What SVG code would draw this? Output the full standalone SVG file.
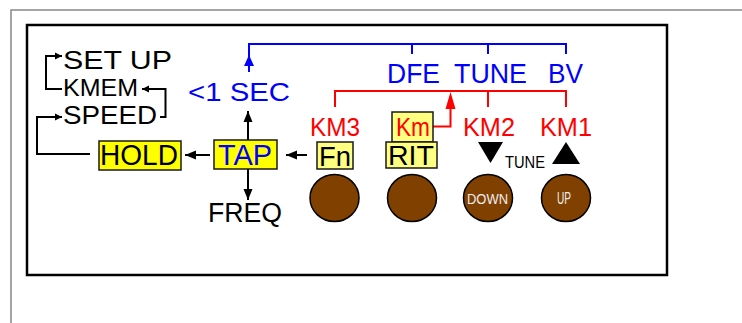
<svg xmlns="http://www.w3.org/2000/svg" width="742" height="323" viewBox="0 0 742 323">
<style>
.t{font-family:"Liberation Sans","DejaVu Sans",sans-serif;}
.bk{fill:#000;}
.bl{fill:#0000ff;}
.rd{fill:#ff0000;}
.ln{fill:none;stroke:#000;stroke-width:2;}
.bln{fill:none;stroke:#0000ff;stroke-width:2;}
.rln{fill:none;stroke:#ff0000;stroke-width:2;}
.yb{fill:#ffff00;stroke:#1a1a1a;stroke-width:1.5;}
.lyb{fill:#ffff80;stroke:#1a1a1a;stroke-width:1.5;}
.btn{fill:#804000;stroke:#000;stroke-width:1.5;}
</style>
<defs>
<marker id="sa" markerWidth="8" markerHeight="8" refX="7" refY="4" orient="auto" markerUnits="userSpaceOnUse">
<path d="M0,0.5 L7,4 L0,7.5 Z" fill="#000"/>
</marker>
<marker id="ba" markerWidth="12" markerHeight="10" refX="11" refY="5" orient="auto" markerUnits="userSpaceOnUse">
<path d="M0,0.5 L11,5 L0,9.5 Z" fill="#000"/>
</marker>
</defs>

<g id="frame">
<path d="M11,323 V10 H742" fill="none" stroke="#888" stroke-width="1.5"/>
<rect x="27" y="25" width="640" height="250" fill="#fff" stroke="#000" stroke-width="2.5"/>
</g>

<g id="connectors">
<path class="ln" d="M62,89 H46 V56 H62" marker-end="url(#sa)"/>
<path class="ln" d="M160,117 H165.5 V89 H142" marker-end="url(#sa)"/>
<path class="ln" d="M90,154 H37 V117 H62" marker-end="url(#sa)"/>
<path class="ln" d="M210,155 H185" marker-end="url(#ba)"/>
<path class="ln" d="M307,155 H286" marker-end="url(#ba)"/>
<path class="ln" d="M248,140 V111" marker-end="url(#ba)"/>
<path class="ln" d="M248,169 V200" marker-end="url(#ba)"/>
<path class="bln" d="M249,72 V44 H566 V54 M412,44 V54 M488,44 V54"/>
<path d="M244,66 L249,55 L254,66 Z" fill="#0000ff"/>
<path class="rln" d="M335,107 V91 H566 V107 M488,91 V107"/>
<path class="rln" d="M433,126.5 H450.5 V100"/>
<path d="M445.5,109 L450.5,92 L455.5,109 Z" fill="#ff0000"/>
</g>

<g id="menu">
<text class="t bk" x="63" y="69" font-size="26" textLength="109" lengthAdjust="spacingAndGlyphs">SET UP</text>
<text class="t bk" x="63" y="96" font-size="24" textLength="75" lengthAdjust="spacingAndGlyphs">KMEM</text>
<text class="t bk" x="63" y="124" font-size="25" textLength="94" lengthAdjust="spacingAndGlyphs">SPEED</text>
</g>

<g id="hold">
<rect class="yb" x="99" y="141" width="82" height="29"/>
<text class="t bk" x="100" y="165" font-size="29" textLength="78" lengthAdjust="spacingAndGlyphs">HOLD</text>
</g>

<g id="tap">
<rect class="yb" x="214" y="140" width="63" height="29"/>
<text class="t bl" x="218" y="165" font-size="29" textLength="54" lengthAdjust="spacingAndGlyphs">TAP</text>
</g>

<g id="sec">
<text class="t bl" x="188" y="101" font-size="25" textLength="102" lengthAdjust="spacingAndGlyphs">&lt;1 SEC</text>
</g>

<g id="freq">
<text class="t bk" x="208" y="222" font-size="27" textLength="74" lengthAdjust="spacingAndGlyphs">FREQ</text>
</g>

<g id="blue-labels">
<text class="t bl" x="387" y="83" font-size="28" textLength="53" lengthAdjust="spacingAndGlyphs">DFE</text>
<text class="t bl" x="454" y="83" font-size="28" textLength="73" lengthAdjust="spacingAndGlyphs">TUNE</text>
<text class="t bl" x="548" y="83" font-size="28" textLength="35" lengthAdjust="spacingAndGlyphs">BV</text>
</g>

<g id="red-labels">
<text class="t rd" x="310" y="136" font-size="26" textLength="50" lengthAdjust="spacingAndGlyphs">KM3</text>
<text class="t rd" x="463" y="136" font-size="26" textLength="52" lengthAdjust="spacingAndGlyphs">KM2</text>
<text class="t rd" x="540" y="136" font-size="26" textLength="52" lengthAdjust="spacingAndGlyphs">KM1</text>
</g>

<g id="km">
<rect class="lyb" x="392" y="112" width="41" height="30"/>
<text class="t rd" x="396" y="136" font-size="26" textLength="34" lengthAdjust="spacingAndGlyphs">Km</text>
</g>

<g id="fn">
<rect class="lyb" x="317" y="142" width="36" height="27"/>
<text class="t bk" x="319" y="166" font-size="28" textLength="32" lengthAdjust="spacingAndGlyphs">Fn</text>
</g>

<g id="rit">
<rect class="lyb" x="386" y="142" width="51" height="26"/>
<text class="t bk" x="388" y="165" font-size="28" textLength="46" lengthAdjust="spacingAndGlyphs">RIT</text>
</g>

<g id="tune">
<path d="M478,142 L503,142 L490.5,163 Z" fill="#000"/>
<path d="M552,164 L580,164 L566,142 Z" fill="#000"/>
<text class="t bk" x="505" y="168" font-size="16" textLength="40" lengthAdjust="spacingAndGlyphs">TUNE</text>
</g>

<g id="btn1"><ellipse class="btn" cx="334.5" cy="198" rx="24.5" ry="23.5"/></g>
<g id="btn2"><ellipse class="btn" cx="412" cy="198" rx="24.5" ry="23.5"/></g>
<g id="btn-down">
<ellipse class="btn" cx="488" cy="198" rx="24.5" ry="23.5"/>
<text class="t" x="467" y="204" font-size="15" fill="#eee" textLength="41" lengthAdjust="spacingAndGlyphs">DOWN</text>
</g>
<g id="btn-up">
<ellipse class="btn" cx="566" cy="198" rx="24.5" ry="23.5"/>
<text class="t" x="557" y="204" font-size="16" fill="#eee" textLength="14" lengthAdjust="spacingAndGlyphs">UP</text>
</g>
</svg>
